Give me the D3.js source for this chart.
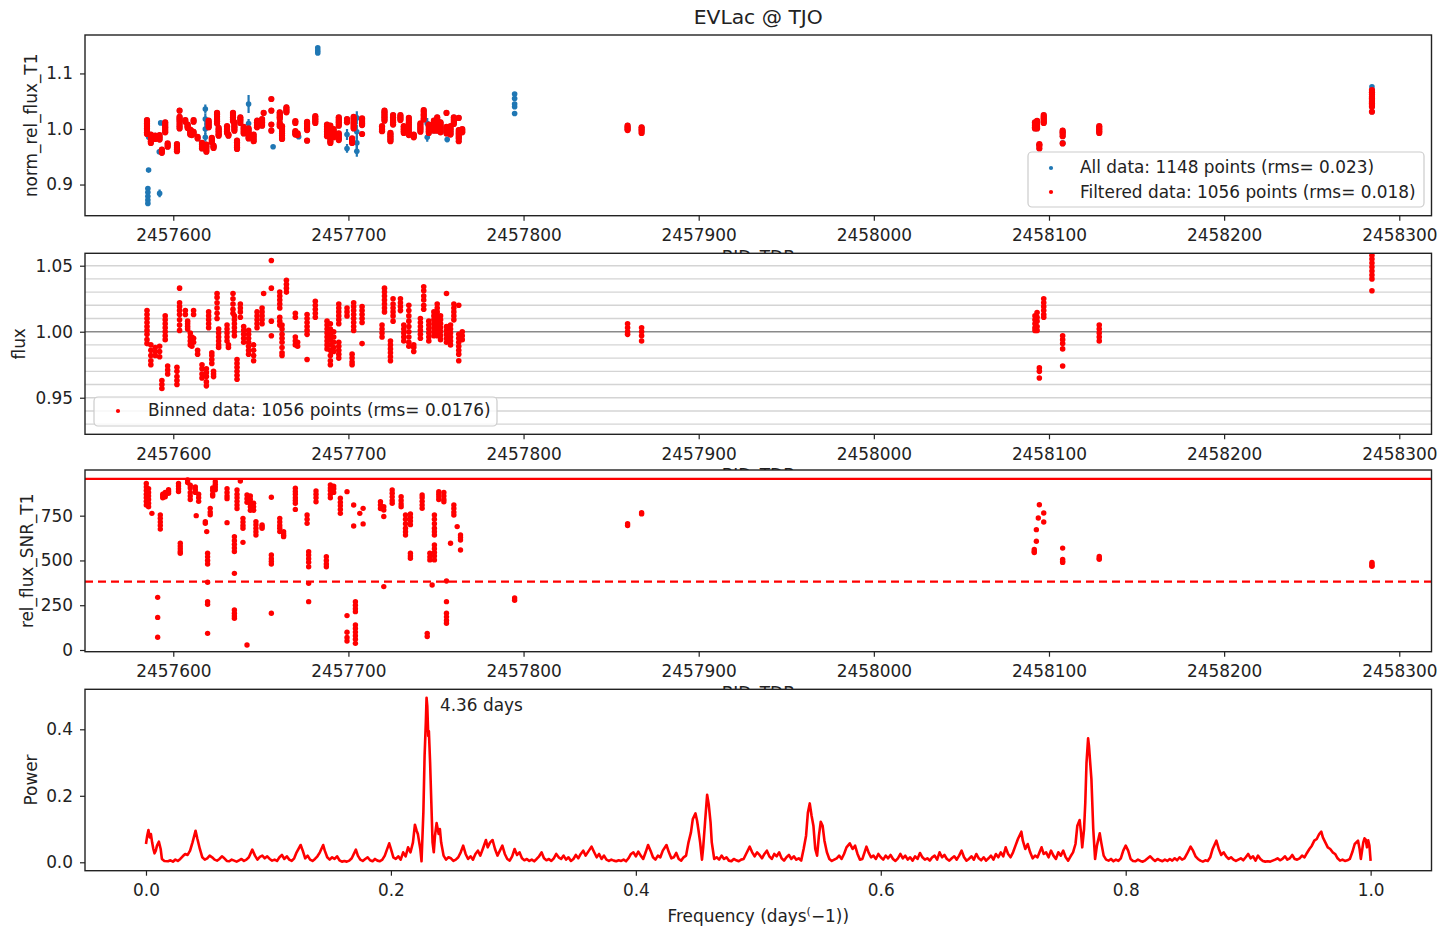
<!DOCTYPE html>
<html><head><meta charset="utf-8">
<script src="https://cdn.jsdelivr.net/npm/d3@7"></script>
<style>body{margin:0;background:#fff}svg{display:block}</style>
</head><body>
<script>
const T0 = 2457000;
const titleText = "EVLac @ TJO";
const bjdTicks = [2457600,2457700,2457800,2457900,2458000,2458100,2458200,2458300];
const flux1Ticks = [0.9,1.0,1.1];
const flux2Ticks = [0.95,1.00,1.05];
const flux2Grid = [0.93,0.94,0.95,0.96,0.97,0.98,0.99,1.01,1.02,1.03,1.04,1.05];
const snrTicks = [0,250,500,750];
const powerTicks = [0,0.2,0.4];
const freqTicks = [0,0.2,0.4,0.6,0.8,1.0];
const legendAll = "All data: 1148 points (rms= 0.023)";
const legendFiltered = "Filtered data: 1056 points (rms= 0.018)";
const legendBinned = "Binned data: 1056 points (rms= 0.0176)";
const peakLabel = "4.36 days";
const snrMax = 955, snrLimit = 382;

// filtered (= binned) flux per night: [BJD - T0, values]
const filteredNights = [
 [585.0,[1.016,1.013,1.010,1.007,1.004,1.001,0.998,0.994,0.991]],
 [587.2,[0.990,0.986,0.982,0.978,0.975]],
 [589.7,[0.988,0.985,0.982]],
 [592.2,[0.989,0.985,0.981]],
 [593.5,[0.963,0.960,0.957]],
 [595.4,[1.012,1.009,1.006,1.003,1.000,0.997,0.994]],
 [596.8,[0.974,0.971,0.968]],
 [602.1,[0.973,0.970,0.966,0.963,0.960]],
 [603.6,[1.033,1.022,1.019,1.016,1.013,1.009,1.005,1.001]],
 [606.9,[1.016,1.013]],
 [608.2,[1.008,1.006,1.004,1.002]],
 [609.7,[0.999,0.996,0.993,0.990]],
 [610.6,[0.996,0.992,0.989]],
 [611.6,[1.016,1.013,0.995,0.992]],
 [613.9,[0.986,0.983]],
 [616.4,[0.975,0.972,0.968,0.965]],
 [618.9,[0.972,0.969,0.966,0.962,0.959]],
 [620.2,[1.015,1.012,1.009,1.006,1.003]],
 [622.0,[0.984,0.982,0.979,0.976]],
 [623.0,[0.970,0.966,0.968]],
 [625.0,[1.029,1.026,1.022,1.018,1.014,1.010]],
 [625.9,[1.002,0.999,0.996,0.993,0.990,0.988]],
 [630.7,[1.005,1.002,0.999,0.996,0.993]],
 [631.5,[0.990,0.988]],
 [634.1,[1.029,1.025,1.021,1.017,1.014]],
 [634.9,[1.012,1.009,1.006,1.003,1.000,0.997]],
 [636.4,[0.979,0.976,0.973,0.970,0.967,0.964]],
 [638.3,[1.021,1.018,1.015,1.011]],
 [640.2,[1.004,1.001,0.998,0.995,0.992]],
 [643.0,[1.001,0.998,0.995,0.992,0.989,0.986,0.983]],
 [645.9,[0.990,0.986,0.982,0.978]],
 [647.8,[1.015,1.012,1.009,1.006,1.003]],
 [650.7,[1.018,1.015,1.012,1.009,1.006]],
 [651.6,[1.029]],
 [656.0,[1.054,1.033,1.008,0.997]],
 [660.8,[1.030,1.027,1.024,1.021,1.018,1.011,1.008,1.005]],
 [662.1,[1.005,1.002,0.998,0.995,0.992,0.988,0.984,0.982]],
 [664.6,[1.039,1.036,1.033,1.030]],
 [669.7,[1.014,1.011,0.996,0.993,0.990]],
 [671.0,[0.992,0.989]],
 [676.4,[1.013,1.010,1.007,1.004,1.001,0.998,0.979]],
 [681.1,[1.023,1.020,1.017,1.014,1.011]],
 [687.8,[1.008,1.005,1.002,0.999,0.996,0.993,0.990,0.987]],
 [689.7,[1.006,1.002,0.998,0.994,0.990,0.986,0.982,0.978,0.975]],
 [691.6,[1.000,0.996,0.992,0.988,0.985]],
 [694.5,[1.021,1.018,1.015,1.012,1.009,1.006,0.992,0.989,0.986,0.983,0.980]],
 [699.2,[1.018,1.015,1.012]],
 [702.1,[0.983,0.980,0.977,0.975]],
 [703.0,[1.022,1.019,1.016,1.013,1.010,1.007,1.004,1.001]],
 [707.8,[1.019,1.016,1.013,1.010,1.007,0.991]],
 [719.2,[1.005,1.002,0.999,0.996]],
 [720.6,[1.033,1.030,1.027,1.024,1.021,1.018,1.015]],
 [724.0,[0.993,0.990,0.987,0.984,0.981,0.978]],
 [725.5,[1.025,1.021,1.018,1.015,1.012,1.008]],
 [729.7,[1.025,1.022,1.019,1.016]],
 [731.6,[1.005,1.002,0.999,0.996,0.993]],
 [734.5,[1.020,1.016,1.012,1.008,1.004,1.000,0.996,0.992,0.989]],
 [737.3,[0.990,0.988,0.985]],
 [741.1,[1.010,1.007,1.004,1.001,0.998,0.995]],
 [743.0,[1.034,1.031,1.027,1.024,1.020,1.017]],
 [745.9,[1.008,1.005,1.002,0.999,0.996,0.993]],
 [748.8,[1.015,1.012,1.009,1.006,1.003,1.000,0.997]],
 [750.7,[1.021,1.018,1.015,1.012,1.009,1.006,1.003,1.000,0.997]],
 [752.6,[1.012,1.009,1.006,1.003,1.000,0.997,0.994]],
 [756.0,[1.029,1.004,1.001,0.998,0.995,0.992]],
 [758.3,[1.005,1.002,0.999,0.996,0.993,0.990]],
 [760.2,[1.021,1.018,1.015,1.012,1.009]],
 [763.0,[1.020,0.998,0.995,0.992,0.989,0.986,0.983,0.978]],
 [765.0,[1.000,0.997,0.994]],
 [859.4,[1.006,1.003,1.000,0.998]],
 [867.4,[1.003,1.000,0.997,0.993]],
 [1092.0,[1.012,1.009,1.006,1.003,1.001]],
 [1093.2,[1.0146,1.011,1.008,1.004,1.001]],
 [1094.5,[0.9726,0.970,0.965]],
 [1097.0,[1.025,1.022,1.019,1.016,1.013,1.011]],
 [1107.8,[0.997,0.994,0.991,0.987,0.974]],
 [1128.7,[1.005,1.002,0.999,0.996,0.993]],
 [1284.4,[1.070,1.066,1.062,1.058,1.055,1.052,1.049,1.046,1.043,1.040,1.031]]
];

// points only in "All data" (rejected), with error: [BJD - T0, value, err]
const rejectedPoints = [
 [585.9,0.926,0.003],[585.5,0.893,0.004],[585.5,0.886,0.004],[585.5,0.879,0.004],
 [585.5,0.872,0.004],[585.5,0.866,0.004],[586.0,0.985,0.004],
 [592.2,0.884,0.007],[592.0,0.959,0.004],[592.8,1.011,0.003],
 [618.3,1.036,0.008],[618.3,1.018,0.010],[618.3,1.000,0.010],[618.3,0.985,0.008],
 [636.4,0.966,0.004],[643.0,1.045,0.016],[643.0,1.010,0.008],
 [657.0,0.968,0.003],[671.6,0.986,0.003],
 [682.5,1.146,0.003],[682.5,1.141,0.003],[682.5,1.137,0.003],
 [699.2,0.990,0.010],[699.2,0.965,0.008],
 [704.8,1.020,0.012],[704.8,0.995,0.012],[704.8,0.975,0.012],[704.8,0.960,0.010],
 [745.0,1.010,0.010],[745.0,0.985,0.008],[756.4,1.000,0.006],[756.4,0.981,0.005],
 [794.9,1.063,0.002],[794.9,1.055,0.002],[794.9,1.045,0.002],[794.9,1.040,0.002],[794.9,1.028,0.002],
 [1107.8,0.975,0.003],[1284.4,1.076,0.003]
];

// rel_flux_SNR_T1 per night: [BJD - T0, values]
const snrNights = [
 [584.6,[930,910,890,870,850,830,810]],
 [585.9,[900,880,860,840,820,800]],
 [587.8,[763]],
 [591.1,[294,182,71]],
 [592.6,[754,735,715,695,675]],
 [594.0,[870,860,850]],
 [595.4,[880,875,865,855]],
 [597.3,[895,885,875]],
 [603.0,[930,915,900,885]],
 [604.0,[596,580,565,550,540]],
 [608.2,[950,935]],
 [609.7,[920,905,880,860,840]],
 [612.6,[910,895,880]],
 [613.1,[750]],
 [614.5,[870,850,830]],
 [618.3,[717,707]],
 [619.1,[661]],
 [619.6,[540,520,500,480,378,270,255,93]],
 [621.1,[791,770,755]],
 [622.5,[905,890,870,860]],
 [624.0,[940,925,910,895]],
 [630.7,[900,880,860,845,711]],
 [634.9,[633,610,590,570,550,428,223,205,190,177]],
 [636.4,[893,870,850,830,810,790]],
 [638.3,[944]],
 [639.8,[735,715,695,680,601]],
 [642.1,[866,845,825,28]],
 [644.0,[860,840,820,800,780]],
 [645.9,[820,800,780]],
 [647.2,[717,700,680,660,642]],
 [650.7,[698,690,680]],
 [656.0,[853,530,510,495,480,205]],
 [660.8,[735,715,695,680,661]],
 [663.0,[661,650,640,633]],
 [669.7,[903,885,870,850,835,819,785]],
 [676.4,[754,730,707]],
 [677.3,[549,530,510,490,465,372,270]],
 [681.5,[888,870,850,828]],
 [687.4,[521,500,480,465]],
 [689.7,[922,905,890,870,850]],
 [691.6,[915,900,880]],
 [695.4,[847,825,805,785,763]],
 [699.2,[884,192,99,70,50]],
 [703.0,[810,692]],
 [704.0,[270,250,230,214,140,120,100,80,60,37]],
 [706.5,[763]],
 [708.4,[791,704]],
 [718.3,[828,810,790]],
 [720.2,[800,782,745,354]],
 [725.0,[893,875,855,835,819]],
 [730.1,[856,835,815,800]],
 [732.6,[754,730,705,680,660,642]],
 [735.4,[760,740,720,700,540,525,512]],
 [742.1,[866,850,830,810,791]],
 [745.0,[93,75]],
 [746.5,[540,520,503]],
 [747.8,[363]],
 [749.1,[754,730,705,680,660,642,586,565,545,525,503]],
 [751.6,[884,870,855,840]],
 [754.5,[880,860,840,828]],
 [756.0,[385,270,205,185,165,149]],
 [758.3,[596]],
 [760.2,[810,790,770,754]],
 [762.1,[689]],
 [764.0,[642,628,614,558]],
 [794.9,[290,278]],
 [859.4,[705,695]],
 [867.4,[767,760]],
 [1091.6,[561,550,544]],
 [1092.8,[607,672]],
 [1093.9,[737]],
 [1094.5,[811]],
 [1097.0,[765,715]],
 [1107.8,[569,506,495,489]],
 [1128.7,[522,512,506]],
 [1284.4,[489,480,472,467]]
];

// periodogram: frequency (1/day)
const freqs = [0.000,0.001,0.002,0.003,0.004,0.005,0.006,0.007,0.008,0.009,0.0105,0.012,0.013,0.015,0.018,0.020,0.022,0.024,0.026,0.028,0.030,0.032,0.034,0.036,0.038,0.0405,0.042,0.044,0.046,0.048,0.050,0.052,0.054,0.056,0.058,0.060,0.062,0.064,0.066,0.068,0.070,0.072,0.074,0.076,0.078,0.080,0.082,0.084,0.0868,0.089,0.091,0.093,0.095,0.097,0.099,0.101,0.103,0.105,0.107,0.109,0.111,0.113,0.115,0.117,0.119,0.121,0.123,0.1263,0.128,0.130,0.132,0.134,0.136,0.138,0.140,0.142,0.1447,0.146,0.148,0.150,0.152,0.154,0.156,0.158,0.160,0.162,0.164,0.166,0.168,0.1714,0.173,0.175,0.177,0.179,0.181,0.183,0.185,0.187,0.189,0.191,0.193,0.195,0.1986,0.200,0.202,0.204,0.206,0.208,0.210,0.212,0.214,0.216,0.218,0.2196,0.221,0.222,0.224,0.225,0.2265,0.2275,0.2285,0.2291,0.2297,0.2305,0.231,0.232,0.233,0.234,0.235,0.236,0.2373,0.239,0.240,0.241,0.243,0.245,0.247,0.249,0.251,0.253,0.255,0.257,0.259,0.261,0.263,0.265,0.267,0.269,0.271,0.273,0.275,0.2776,0.279,0.281,0.283,0.285,0.287,0.289,0.291,0.293,0.295,0.297,0.299,0.301,0.303,0.305,0.307,0.309,0.311,0.313,0.315,0.317,0.319,0.321,0.323,0.325,0.327,0.329,0.331,0.333,0.335,0.337,0.339,0.341,0.343,0.345,0.347,0.349,0.351,0.353,0.355,0.357,0.359,0.3638,0.366,0.368,0.370,0.372,0.374,0.376,0.378,0.380,0.382,0.384,0.386,0.388,0.390,0.392,0.394,0.396,0.398,0.400,0.402,0.404,0.406,0.408,0.410,0.412,0.414,0.416,0.418,0.420,0.422,0.4250,0.427,0.429,0.431,0.433,0.435,0.437,0.439,0.441,0.443,0.445,0.4465,0.4487,0.450,0.451,0.4525,0.454,0.455,0.4565,0.4582,0.4595,0.461,0.462,0.464,0.466,0.468,0.470,0.472,0.474,0.476,0.478,0.480,0.482,0.484,0.486,0.488,0.490,0.493,0.495,0.497,0.499,0.501,0.503,0.505,0.507,0.509,0.511,0.513,0.515,0.517,0.519,0.521,0.523,0.525,0.527,0.529,0.531,0.533,0.535,0.537,0.539,0.5405,0.5420,0.5435,0.545,0.5465,0.548,0.5495,0.551,0.5525,0.554,0.556,0.558,0.560,0.562,0.564,0.566,0.568,0.570,0.572,0.5747,0.577,0.579,0.581,0.583,0.585,0.5883,0.590,0.592,0.594,0.596,0.598,0.600,0.602,0.604,0.606,0.608,0.610,0.612,0.614,0.616,0.618,0.620,0.622,0.624,0.626,0.628,0.630,0.632,0.634,0.636,0.638,0.640,0.642,0.644,0.646,0.648,0.650,0.652,0.654,0.656,0.658,0.660,0.662,0.664,0.666,0.668,0.670,0.672,0.674,0.676,0.678,0.680,0.682,0.684,0.686,0.688,0.690,0.692,0.694,0.696,0.698,0.700,0.702,0.704,0.706,0.708,0.710,0.712,0.7148,0.716,0.718,0.720,0.722,0.724,0.726,0.728,0.7313,0.733,0.735,0.737,0.739,0.741,0.743,0.745,0.747,0.749,0.751,0.753,0.755,0.757,0.759,0.7605,0.7624,0.7635,0.7645,0.766,0.767,0.768,0.7693,0.770,0.771,0.772,0.7735,0.775,0.7765,0.7788,0.780,0.782,0.784,0.786,0.788,0.790,0.792,0.794,0.796,0.798,0.800,0.802,0.804,0.806,0.808,0.810,0.812,0.814,0.816,0.818,0.820,0.822,0.824,0.826,0.828,0.830,0.832,0.834,0.836,0.838,0.840,0.842,0.844,0.846,0.848,0.850,0.853,0.855,0.857,0.859,0.861,0.863,0.865,0.867,0.869,0.871,0.874,0.876,0.878,0.880,0.882,0.884,0.886,0.888,0.890,0.892,0.894,0.896,0.898,0.900,0.902,0.904,0.906,0.908,0.910,0.912,0.914,0.916,0.918,0.920,0.922,0.924,0.926,0.928,0.930,0.932,0.934,0.936,0.938,0.940,0.942,0.944,0.946,0.948,0.950,0.952,0.954,0.956,0.958,0.9597,0.961,0.963,0.965,0.967,0.969,0.971,0.973,0.975,0.977,0.979,0.981,0.983,0.985,0.987,0.9897,0.991,0.992,0.993,0.994,0.995,0.996,0.997,0.998,0.999,1.000];
// periodogram power, same order as freqs
const power = [0.055,0.080,0.097,0.075,0.085,0.060,0.040,0.027,0.035,0.050,0.062,0.040,0.010,0.004,0.003,0.006,0.002,0.008,0.004,0.010,0.018,0.025,0.022,0.035,0.060,0.095,0.070,0.040,0.015,0.008,0.012,0.020,0.015,0.008,0.005,0.010,0.018,0.012,0.004,0.003,0.008,0.005,0.002,0.006,0.010,0.004,0.008,0.015,0.038,0.020,0.008,0.016,0.020,0.012,0.018,0.010,0.005,0.008,0.004,0.015,0.022,0.010,0.018,0.008,0.004,0.012,0.030,0.052,0.035,0.012,0.020,0.008,0.004,0.010,0.018,0.030,0.052,0.035,0.015,0.008,0.015,0.010,0.018,0.006,0.002,0.004,0.002,0.005,0.012,0.038,0.020,0.008,0.004,0.010,0.015,0.006,0.003,0.010,0.005,0.003,0.008,0.020,0.057,0.040,0.015,0.010,0.018,0.008,0.030,0.018,0.045,0.030,0.060,0.113,0.095,0.085,0.040,0.003,0.150,0.320,0.420,0.495,0.470,0.380,0.395,0.300,0.180,0.060,0.030,0.080,0.118,0.085,0.100,0.060,0.020,0.008,0.015,0.012,0.004,0.008,0.015,0.030,0.050,0.025,0.010,0.018,0.008,0.025,0.035,0.020,0.040,0.067,0.045,0.060,0.067,0.040,0.020,0.035,0.050,0.025,0.010,0.005,0.018,0.040,0.022,0.030,0.012,0.006,0.010,0.004,0.008,0.003,0.010,0.018,0.030,0.012,0.006,0.010,0.004,0.012,0.025,0.015,0.010,0.020,0.008,0.015,0.004,0.010,0.022,0.012,0.025,0.035,0.020,0.047,0.030,0.015,0.025,0.010,0.020,0.008,0.004,0.008,0.005,0.003,0.006,0.004,0.008,0.003,0.012,0.025,0.030,0.018,0.032,0.020,0.010,0.030,0.052,0.035,0.015,0.008,0.020,0.015,0.035,0.052,0.030,0.012,0.015,0.028,0.010,0.005,0.015,0.020,0.060,0.090,0.130,0.147,0.125,0.100,0.060,0.008,0.045,0.120,0.203,0.175,0.120,0.060,0.010,0.015,0.008,0.020,0.010,0.015,0.005,0.003,0.010,0.006,0.003,0.008,0.010,0.025,0.047,0.030,0.018,0.030,0.022,0.012,0.025,0.035,0.018,0.010,0.025,0.018,0.030,0.012,0.005,0.015,0.022,0.010,0.018,0.008,0.012,0.005,0.040,0.080,0.150,0.177,0.140,0.110,0.040,0.020,0.080,0.122,0.110,0.065,0.030,0.010,0.004,0.008,0.012,0.020,0.010,0.025,0.045,0.057,0.040,0.050,0.025,0.008,0.010,0.047,0.030,0.015,0.020,0.010,0.025,0.015,0.008,0.020,0.012,0.022,0.010,0.004,0.012,0.025,0.012,0.020,0.008,0.015,0.005,0.018,0.010,0.028,0.015,0.008,0.012,0.005,0.015,0.020,0.008,0.030,0.015,0.022,0.010,0.005,0.012,0.018,0.008,0.020,0.035,0.015,0.005,0.010,0.018,0.008,0.025,0.012,0.006,0.015,0.005,0.012,0.020,0.008,0.025,0.015,0.030,0.018,0.045,0.025,0.015,0.030,0.050,0.070,0.092,0.065,0.040,0.055,0.030,0.012,0.020,0.015,0.045,0.025,0.030,0.015,0.035,0.020,0.010,0.030,0.020,0.035,0.015,0.005,0.018,0.030,0.055,0.110,0.127,0.090,0.045,0.100,0.180,0.300,0.373,0.350,0.300,0.250,0.100,0.010,0.050,0.087,0.060,0.020,0.008,0.005,0.010,0.003,0.008,0.004,0.012,0.035,0.050,0.035,0.010,0.004,0.003,0.008,0.004,0.002,0.006,0.012,0.018,0.010,0.004,0.010,0.006,0.003,0.008,0.004,0.010,0.005,0.012,0.006,0.015,0.008,0.012,0.025,0.047,0.035,0.018,0.010,0.005,0.002,0.006,0.004,0.015,0.040,0.065,0.040,0.022,0.030,0.018,0.010,0.015,0.008,0.004,0.008,0.012,0.006,0.015,0.025,0.012,0.018,0.005,0.020,0.010,0.004,0.002,0.003,0.002,0.005,0.008,0.012,0.006,0.010,0.018,0.008,0.012,0.022,0.010,0.008,0.012,0.020,0.015,0.028,0.040,0.050,0.065,0.070,0.085,0.092,0.075,0.060,0.045,0.040,0.030,0.025,0.012,0.005,0.008,0.004,0.006,0.010,0.030,0.055,0.065,0.040,0.010,0.035,0.060,0.072,0.068,0.045,0.066,0.050,0.004];

// ---------- drawing ----------
const W = 1441, H = 930;
const FONT = "'DejaVu Sans', 'Liberation Sans', sans-serif";
const FS = 16.9;
const TXT = "#222";
const svg = d3.select("body").append("svg").attr("width", W).attr("height", H)
  .style("font-family", FONT);
svg.append("rect").attr("width", W).attr("height", H).attr("fill", "#fff");

const L = 85, R = 1431.5;
const panels = [
  {top: 35, bottom: 215.7},
  {top: 253.3, bottom: 434.3},
  {top: 470, bottom: 651.7},
  {top: 689.3, bottom: 870.7}
];

const xT = d3.scaleLinear().domain([2457549.6, 2458318.4]).range([L, R]);
const xF = d3.scaleLinear().domain([-0.0498, 1.0497]).range([L, R]);

svg.append("text").attr("x", (L + R) / 2).attr("y", 24).attr("text-anchor", "middle")
  .attr("font-size", 20.3).attr("fill", TXT).text(titleText);

function setupPanel(i) {
  const p = panels[i];
  const g = svg.append("g");
  g.append("rect").attr("x", L).attr("y", p.top).attr("width", R - L).attr("height", p.bottom - p.top).attr("fill", "#fff");
  const cid = "clip" + i;
  svg.append("defs").append("clipPath").attr("id", cid).append("rect")
    .attr("x", L).attr("y", p.top).attr("width", R - L).attr("height", p.bottom - p.top);
  const plot = g.append("g").attr("clip-path", `url(#${cid})`);
  return {g, plot, p};
}

function styleAxis(sel) {
  sel.select(".domain").remove();
  sel.selectAll(".tick line").attr("stroke", "#222").attr("stroke-width", 1.2);
  sel.selectAll(".tick text").attr("fill", TXT).attr("font-size", FS).attr("font-family", FONT);
}

function finishPanel(P, x, y, xTicks, xFmt, yTicks, yFmt, ylabel, ylabelX) {
  const {g, p} = P;
  g.append("rect").attr("x", L).attr("y", p.top).attr("width", R - L).attr("height", p.bottom - p.top)
    .attr("fill", "none").attr("stroke", "#222").attr("stroke-width", 1.4);
  const xa = g.append("g").attr("transform", `translate(0,${p.bottom})`)
    .call(d3.axisBottom(x).tickValues(xTicks).tickFormat(xFmt).tickSize(5).tickPadding(8.5));
  styleAxis(xa);
  const ya = g.append("g").attr("transform", `translate(${L},0)`)
    .call(d3.axisLeft(y).tickValues(yTicks).tickFormat(yFmt).tickSize(5).tickPadding(7));
  styleAxis(ya);
  const yc = (p.top + p.bottom) / 2;
  g.append("text").attr("transform", `translate(${ylabelX},${yc}) rotate(-90)`)
    .attr("text-anchor", "middle").attr("dominant-baseline", "central")
    .attr("font-size", FS).attr("fill", TXT).text(ylabel);
}

function bjdLabel(P) {
  P.g.append("text").attr("x", (L + R) / 2).attr("y", P.p.bottom + 47).attr("text-anchor", "middle")
    .attr("font-size", FS).attr("fill", TXT).text("BJD_TDB");
}

const fmtInt = d3.format("d");
const RED = "#ff0000", BLUE = "#1f77b4";
const filteredPts = filteredNights.flatMap(([t, vs]) => vs.map(v => ({t: T0 + t, v})));
const snrPts = snrNights.flatMap(([t, vs]) => vs.map(v => ({t: T0 + t, v})));

// Panel 1
{
  const y = d3.scaleLinear().domain([0.8439, 1.1692]).range([panels[0].bottom, panels[0].top]);
  const P = setupPanel(0);
  const rej = rejectedPoints.map(([t, v, e]) => ({t: T0 + t, v, e}));
  P.plot.selectAll("line.eb").data(rej).join("line")
    .attr("x1", d => xT(d.t)).attr("x2", d => xT(d.t))
    .attr("y1", d => y(d.v - d.e)).attr("y2", d => y(d.v + d.e))
    .attr("stroke", BLUE).attr("stroke-width", 2.2);
  P.plot.selectAll("circle.ball").data(filteredPts.concat(rej)).join("circle")
    .attr("cx", d => xT(d.t)).attr("cy", d => y(d.v)).attr("r", 2.8).attr("fill", BLUE);
  P.plot.selectAll("circle.red").data(filteredPts).join("circle")
    .attr("cx", d => xT(d.t)).attr("cy", d => y(d.v)).attr("r", 3.1).attr("fill", RED);
  finishPanel(P, xT, y, bjdTicks, fmtInt, flux1Ticks, d3.format(".1f"), "norm_rel_flux_T1", 31);
  const lg = P.g.append("g");
  lg.append("rect").attr("x", 1028).attr("y", 152).attr("width", 396).attr("height", 55).attr("rx", 4)
    .attr("fill", "#fff").attr("fill-opacity", 0.8).attr("stroke", "#cccccc").attr("stroke-width", 1.2);
  lg.append("circle").attr("cx", 1051).attr("cy", 168).attr("r", 2.1).attr("fill", BLUE);
  lg.append("circle").attr("cx", 1051).attr("cy", 192).attr("r", 2.1).attr("fill", RED);
  lg.append("text").attr("x", 1080).attr("y", 167).attr("dominant-baseline", "central")
    .attr("font-size", FS).attr("fill", TXT).text(legendAll);
  lg.append("text").attr("x", 1080).attr("y", 192).attr("dominant-baseline", "central")
    .attr("font-size", FS).attr("fill", TXT).text(legendFiltered);
  bjdLabel(P);
}

// Panel 2
{
  const y = d3.scaleLinear().domain([0.9223, 1.0594]).range([panels[1].bottom, panels[1].top]);
  const P = setupPanel(1);
  P.plot.selectAll("line.grid").data(flux2Grid).join("line")
    .attr("x1", L).attr("x2", R).attr("y1", d => y(d)).attr("y2", d => y(d))
    .attr("stroke", "#d4d4d4").attr("stroke-width", 1.4);
  P.plot.append("line").attr("x1", L).attr("x2", R).attr("y1", y(1)).attr("y2", y(1))
    .attr("stroke", "#8a8a8a").attr("stroke-width", 1.6);
  P.plot.selectAll("circle.red").data(filteredPts).join("circle")
    .attr("cx", d => xT(d.t)).attr("cy", d => y(d.v)).attr("r", 2.8).attr("fill", RED);
  finishPanel(P, xT, y, bjdTicks, fmtInt, flux2Ticks, d3.format(".2f"), "flux", 19);
  const lg = P.g.append("g");
  lg.append("rect").attr("x", 94).attr("y", 397).attr("width", 403).attr("height", 29).attr("rx", 4)
    .attr("fill", "#fff").attr("fill-opacity", 0.8).attr("stroke", "#cccccc").attr("stroke-width", 1.2);
  lg.append("circle").attr("cx", 118).attr("cy", 411).attr("r", 2.1).attr("fill", RED);
  lg.append("text").attr("x", 148).attr("y", 410).attr("dominant-baseline", "central")
    .attr("font-size", FS).attr("fill", TXT).text(legendBinned);
  bjdLabel(P);
}

// Panel 3
{
  const y = d3.scaleLinear().domain([-9.5, 1005]).range([panels[2].bottom, panels[2].top]);
  const P = setupPanel(2);
  P.plot.append("line").attr("x1", L).attr("x2", R).attr("y1", y(snrMax)).attr("y2", y(snrMax))
    .attr("stroke", RED).attr("stroke-width", 2.2);
  P.plot.append("line").attr("x1", L).attr("x2", R).attr("y1", y(snrLimit)).attr("y2", y(snrLimit))
    .attr("stroke", RED).attr("stroke-width", 2.2).attr("stroke-dasharray", "8,5");
  P.plot.selectAll("circle.red").data(snrPts).join("circle")
    .attr("cx", d => xT(d.t)).attr("cy", d => y(d.v)).attr("r", 2.7).attr("fill", RED);
  finishPanel(P, xT, y, bjdTicks, fmtInt, snrTicks, fmtInt, "rel_flux_SNR_T1", 27);
  bjdLabel(P);
}

// Panel 4
{
  const y = d3.scaleLinear().domain([-0.0253, 0.5203]).range([panels[3].bottom, panels[3].top]);
  const P = setupPanel(3);
  const line = d3.line().x((d, i) => xF(freqs[i])).y(d => y(d));
  P.plot.append("path").attr("d", line(power)).attr("fill", "none")
    .attr("stroke", RED).attr("stroke-width", 2.6).attr("stroke-linejoin", "round");
  finishPanel(P, xF, y, freqTicks, d3.format(".1f"), powerTicks, d3.format(".1f"), "Power", 31);
  P.g.append("text").attr("x", 440).attr("y", 711).attr("font-size", FS).attr("fill", TXT).text(peakLabel);
  const xl = P.g.append("text").attr("x", (L + R) / 2).attr("y", 922).attr("text-anchor", "middle")
    .attr("font-size", FS).attr("fill", TXT);
  xl.append("tspan").text("Frequency (days");
  xl.append("tspan").attr("font-size", 11).attr("dy", -7).text("(");
  xl.append("tspan").attr("font-size", FS).attr("dy", 7).text("\u22121))");
}
</script>
</body></html>
